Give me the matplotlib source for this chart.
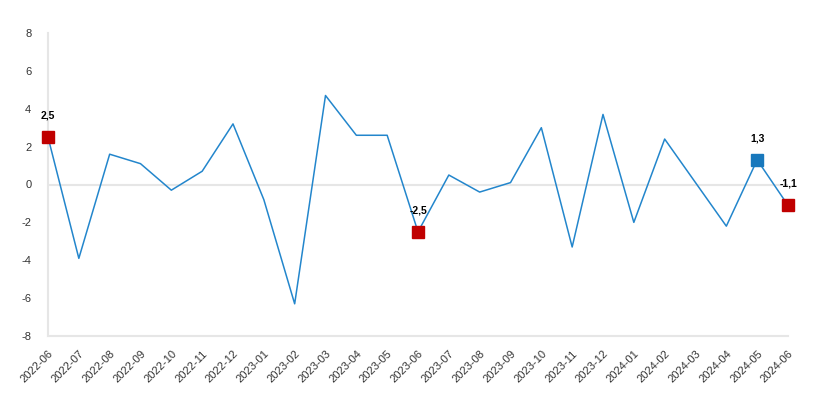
import matplotlib.pyplot as plt

plt.rcParams['font.family'] = ['Liberation Sans', 'DejaVu Sans']

months = ['2022-06', '2022-07', '2022-08', '2022-09', '2022-10', '2022-11', '2022-12',
          '2023-01', '2023-02', '2023-03', '2023-04', '2023-05', '2023-06', '2023-07',
          '2023-08', '2023-09', '2023-10', '2023-11', '2023-12', '2024-01', '2024-02',
          '2024-03', '2024-04', '2024-05', '2024-06']
values = [2.5, -3.9, 1.6, 1.1, -0.3, 0.7, 3.2, -0.8, -6.3, 4.7, 2.6, 2.6, -2.5, 0.5,
          -0.4, 0.1, 3.0, -3.3, 3.7, -2.0, 2.4, 0.1, -2.2, 1.3, -1.1]
red_points = ['2022-06', '2023-06', '2024-06']
blue_points = ['2024-05']
yticks = [-8, -6, -4, -2, 0, 2, 4, 6, 8]

fig = plt.figure(figsize=(8.18, 4.03), dpi=100)
ax = fig.add_axes([48 / 818, 1 - 336 / 403, 740 / 818, 303 / 403])

x = list(range(len(months)))
ax.axhline(0, color='#e6e6e6', lw=1.5, zorder=1)
ax.plot(x, values, color='#2386cc', lw=1.1, zorder=2)

for names, col in [(red_points, '#c00000'), (blue_points, '#1878bc')]:
    for n in names:
        i = months.index(n)
        ax.plot(i, values[i], marker='s', ms=8.6, color=col, mec=col, zorder=3, clip_on=False)
        ax.annotate(f'{values[i]:.1f}'.replace('.', ','), (i, values[i]),
                    xytext=(0, 15.5), textcoords='offset points', ha='center', va='center',
                    fontsize=7.5, fontweight='bold', color='black')

ax.set_xlim(0, len(months) - 1)
ax.set_ylim(-8, 8)
ax.set_yticks(yticks)
ax.set_yticklabels([str(t) for t in yticks])
ax.set_xticks(x)
ax.set_xticklabels(months, rotation=45, ha='right', rotation_mode='anchor')

for s in ['top', 'right']:
    ax.spines[s].set_visible(False)
for s in ['left', 'bottom']:
    ax.spines[s].set_color('#e6e6e6')
    ax.spines[s].set_linewidth(1.5)
ax.tick_params(axis='both', length=0, labelsize=8, colors='#333333')
ax.tick_params(axis='y', pad=12)
ax.tick_params(axis='x', pad=9)

fig.savefig('out.png', dpi=100)
